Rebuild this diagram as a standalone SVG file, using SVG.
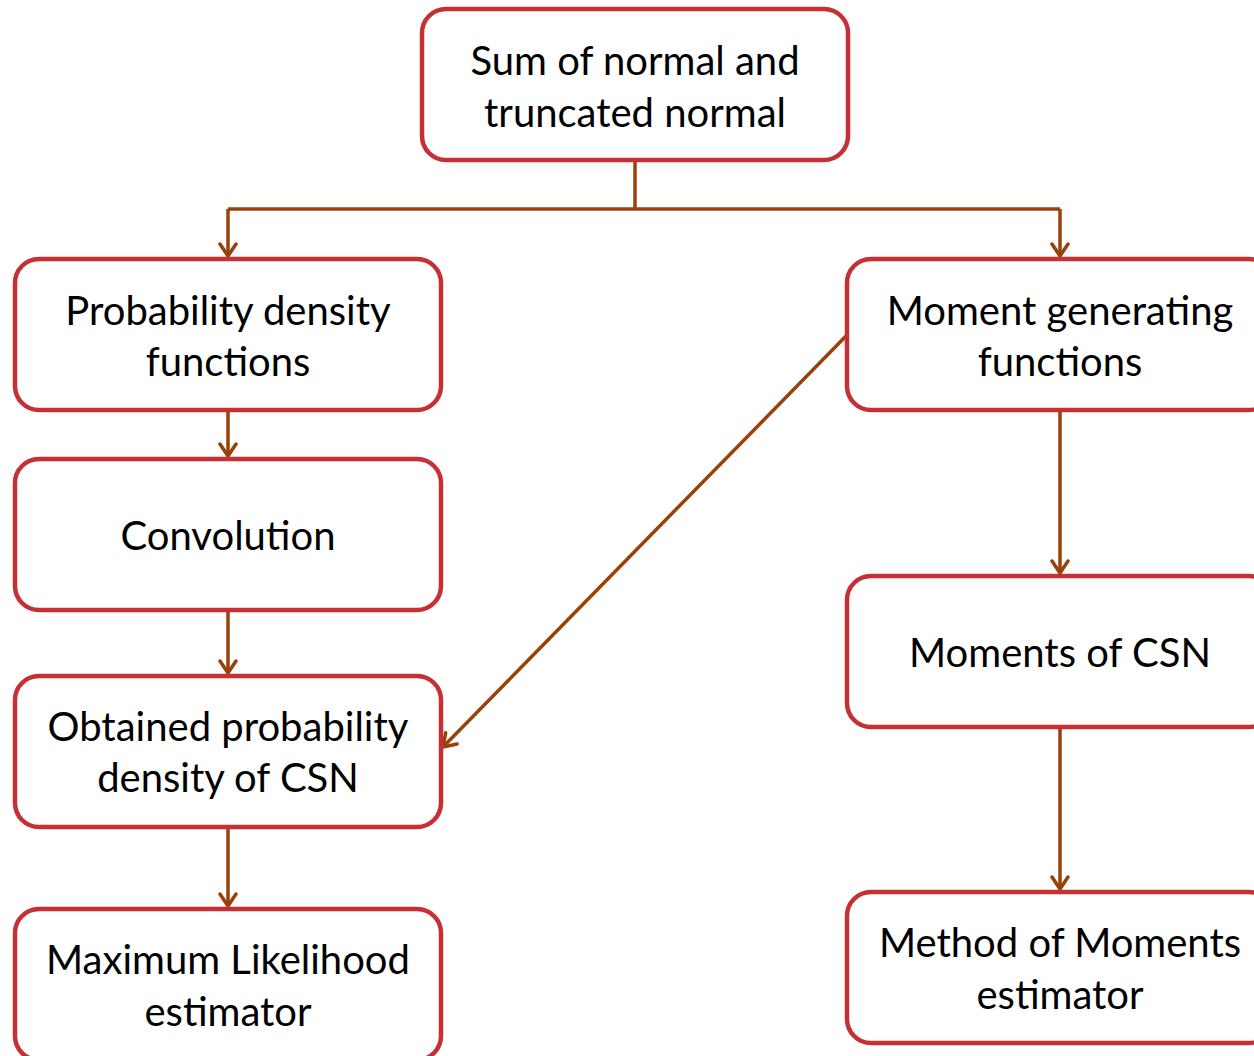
<svg xmlns="http://www.w3.org/2000/svg" width="1254" height="1056" viewBox="0 0 1254 1056">
<style>
.box{fill:#fff;stroke:#C63034;stroke-width:4.5}
.t{font-family:Lato,"Open Sans","Liberation Sans",sans-serif;font-size:40px;fill:#000;text-anchor:middle}
.c{fill:none;stroke:#984209;stroke-width:3.5}
</style>
<defs>
<marker id="ah" markerWidth="20" markerHeight="20" refX="15" refY="10" orient="auto" markerUnits="userSpaceOnUse">
<path d="M3,2 L15,10 L3,18" fill="none" stroke="#984209" stroke-width="3.5" stroke-linecap="round" stroke-linejoin="round"/>
</marker>
</defs>
<rect width="1254" height="1056" fill="#fff"/>
<g id="connectors">
<path class="c" d="M635,160 V209"/>
<path class="c" d="M228,209 H1060"/>
<path class="c" d="M228,209 V256" marker-end="url(#ah)"/>
<path class="c" d="M1060,209 V256" marker-end="url(#ah)"/>
<path class="c" d="M228,410 V456" marker-end="url(#ah)"/>
<path class="c" d="M228,610 V673" marker-end="url(#ah)"/>
<path class="c" d="M228,827 V906" marker-end="url(#ah)"/>
<path class="c" d="M1060,410 V573" marker-end="url(#ah)"/>
<path class="c" d="M1060,727 V889" marker-end="url(#ah)"/>
<path class="c" d="M847,335 L443,747" marker-end="url(#ah)"/>
</g>
<g id="n-sum"><rect class="box" x="422" y="9" width="426" height="151" rx="24"/><text class="t" x="635" y="75">Sum of normal and</text><text class="t" x="635" y="127">truncated normal</text></g>
<g id="n-pdf"><rect class="box" x="15" y="259" width="426" height="151" rx="24"/><text class="t" x="228" y="325">Probability density</text><text class="t" x="228" y="376">functions</text></g>
<g id="n-conv"><rect class="box" x="15" y="459" width="426" height="151" rx="24"/><text class="t" x="228" y="550">Convolution</text></g>
<g id="n-obt"><rect class="box" x="15" y="676" width="426" height="151" rx="24"/><text class="t" x="228" y="741">Obtained probability</text><text class="t" x="228" y="792">density of CSN</text></g>
<g id="n-mle"><rect class="box" x="15" y="909" width="426" height="151" rx="24"/><text class="t" x="228" y="974">Maximum Likelihood</text><text class="t" x="228" y="1026">estimator</text></g>
<g id="n-mgf"><rect class="box" x="847" y="259" width="426" height="151" rx="24"/><text class="t" x="1060" y="325">Moment generating</text><text class="t" x="1060" y="376">functions</text></g>
<g id="n-mom"><rect class="box" x="847" y="576" width="426" height="151" rx="24"/><text class="t" x="1060" y="667">Moments of CSN</text></g>
<g id="n-mme"><rect class="box" x="847" y="892" width="426" height="151" rx="24"/><text class="t" x="1060" y="957">Method of Moments</text><text class="t" x="1060" y="1009">estimator</text></g>
</svg>
